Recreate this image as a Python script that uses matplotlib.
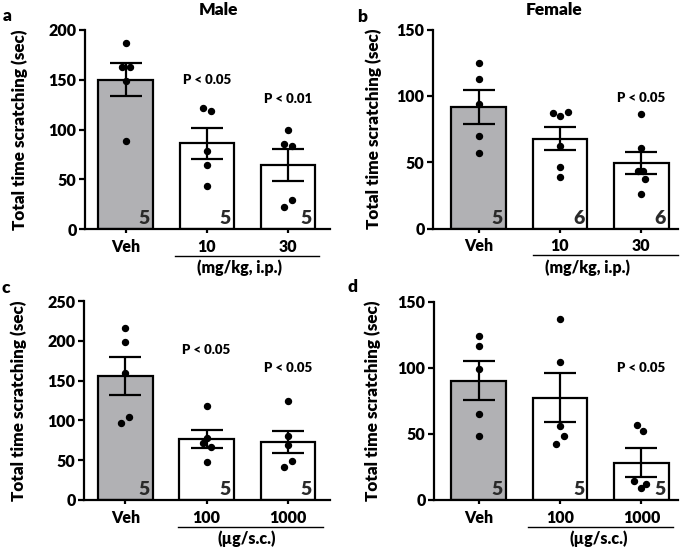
import matplotlib
matplotlib.use("Agg")
import matplotlib.pyplot as plt
import numpy as np

plt.rcParams['font.family'] = ['Lato', 'DejaVu Sans']

# ---------------- data ----------------
# panel a (Male, mg/kg i.p.)
a_labels = ["Veh", "10", "30"]
a_means = [150, 86, 64]
a_sem = [16.5, 15.8, 16.0]
a_n = [5, 5, 5]
a_pts = [[187, 163, 163, 149, 88],
         [122, 119, 78, 64, 43],
         [100, 85, 83, 29, 22]]
a_jit = [[0, -0.05, 0.05, 0, 0],
         [-0.05, 0.05, 0, 0, 0],
         [0, -0.05, 0.05, 0.05, -0.05]]
a_p = ["", "P < 0.05", "P < 0.01"]
a_py = [0, 150, 131]

# panel b (Female, mg/kg i.p.)
b_labels = ["Veh", "10", "30"]
b_means = [91.7, 67.8, 49.5]
b_sem = [12.8, 9.0, 8.5]
b_n = [5, 6, 6]
b_pts = [[125, 113, 94, 70, 57],
         [87, 85, 88, 62, 46, 39],
         [86, 61, 43, 43, 37, 26]]
b_jit = [[0, 0, 0, 0, 0],
         [-0.09, 0, 0.095, 0, 0, 0],
         [0, 0, -0.04, 0.02, 0.05, 0]]
b_p = ["", "", "P < 0.05"]
b_py = [0, 0, 98.5]

# panel c (Male, ug s.c.)
c_labels = ["Veh", "100", "1000"]
c_means = [155.6, 76.8, 73]
c_sem = [24, 11.5, 14.3]
c_n = [5, 5, 5]
c_pts = [[216, 199, 160, 104, 97],
         [118, 78, 71, 67, 48],
         [125, 80, 69, 49, 42]]
c_jit = [[0, 0, 0, 0.05, -0.05],
         [0, 0, -0.05, 0.05, 0],
         [0, 0, 0, 0.05, -0.05]]
c_p = ["", "P < 0.05", "P < 0.05"]
c_py = [0, 189, 166]

# panel d (Female, ug s.c.)
d_labels = ["Veh", "100", "1000"]
d_means = [90, 77.3, 28.3]
d_sem = [14.8, 18.5, 10.7]
d_n = [5, 5, 5]
d_pts = [[124, 116, 99, 65, 48],
         [137, 104, 56, 48, 42],
         [57, 52, 14, 9, 12]]
d_jit = [[0, 0, 0, 0, 0],
         [0, 0, 0, 0.05, -0.05],
         [-0.06, 0.02, -0.09, -0.01, 0.06]]
d_p = ["", "", "P < 0.05"]
d_py = [0, 0, 100]

GRAY = '#b1b1b4'
LW = 1.6
FW = 'heavy'

fig = plt.figure(figsize=(6.85, 5.48), dpi=100)

def px_axes(l, r, top, bot):
    W, H = 685, 548
    return fig.add_axes([l / W, 1 - bot / H, (r - l) / W, (bot - top) / H])

def panel(ax, labels, means, sem, n, pts, jit, ptxt, py, ymax, ystep, xlim,
          group, ylab_x, gline, gtx):
    x = np.arange(len(labels))
    colors = [GRAY] + ['white'] * (len(labels) - 1)
    ax.bar(x, means, width=0.67, color=colors, edgecolor='black',
           linewidth=LW, zorder=1)
    ax.errorbar(x, means, yerr=sem, fmt='none', ecolor='black',
                elinewidth=LW, capsize=11.5, capthick=LW, zorder=2)
    for i in range(len(labels)):
        xs = i + np.array(jit[i])
        ax.plot(xs, pts[i], 'o', color='black', markersize=4.3, zorder=3,
                clip_on=False)
        ax.text(i + 0.30, 0.01, str(n[i]), transform=ax.get_xaxis_transform(),
                ha='right', va='bottom', fontsize=14, fontweight=FW,
                color='#2a2a2a', zorder=4)
        if ptxt[i]:
            ax.text(i, py[i], ptxt[i], ha='center', va='center', fontsize=9.5,
                    fontweight=FW)
    ax.set_xlim(*xlim)
    ax.set_ylim(0, ymax)
    ax.set_yticks(np.arange(0, ymax + 1, ystep))
    ax.set_xticks(x)
    ax.set_xticklabels(labels)
    for s in ['top', 'right']:
        ax.spines[s].set_visible(False)
    for s in ['left', 'bottom']:
        ax.spines[s].set_linewidth(LW)
    ax.tick_params(axis='y', length=4, width=LW, labelsize=11.5, pad=2)
    ax.tick_params(axis='x', length=3, width=LW, labelsize=11.5, pad=4)
    for lab in ax.get_xticklabels() + ax.get_yticklabels():
        lab.set_fontweight(FW)
    ax.set_ylabel("Total time scratching (sec)", fontsize=12.3,
                  fontweight=FW)
    ax.yaxis.set_label_coords(ylab_x, 0.5)
    tr = ax.get_xaxis_transform()
    ax.plot(gline, [-0.135, -0.135], color='black', lw=1.0,
            transform=tr, clip_on=False)
    ax.text(gtx, -0.195, group, transform=tr, ha='center', va='center',
            fontsize=11.5, fontweight=FW)

ax_a = px_axes(85, 330, 30, 229)
panel(ax_a, a_labels, a_means, a_sem, a_n, a_pts, a_jit, a_p, a_py, 200, 50,
      (-0.5, 2.52), "(mg/kg, i.p.)", -0.233, [0.61, 2.38], 1.41)
ax_b = px_axes(433, 678, 29.5, 228.5)
panel(ax_b, b_labels, b_means, b_sem, b_n, b_pts, b_jit, b_p, b_py, 150, 50,
      (-0.56, 2.45), "(mg/kg, i.p.)", -0.208, [0.67, 2.45], 1.34)
ax_c = px_axes(84, 330, 301, 500)
panel(ax_c, c_labels, c_means, c_sem, c_n, c_pts, c_jit, c_p, c_py, 250, 50,
      (-0.51, 2.52), "(\u00b5g/s.c.)", -0.233, [0.65, 2.43], 1.5)
ax_d = px_axes(434, 678, 301.5, 500)
panel(ax_d, d_labels, d_means, d_sem, d_n, d_pts, d_jit, d_p, d_py, 150, 50,
      (-0.55, 2.45), "(\u00b5g/s.c.)", -0.218, [0.61, 2.39], 1.47)

fig.text(218 / 685, 1 - 10 / 548, "Male", ha='center', va='center',
         fontsize=12.5, fontweight=FW)
fig.text(554 / 685, 1 - 10 / 548, "Female", ha='center', va='center',
         fontsize=12.5, fontweight=FW)
for lx, ly, t in [(7, 16, 'a'), (362, 17, 'b'), (6, 288, 'c'), (352, 287, 'd')]:
    fig.text(lx / 685, 1 - ly / 548, t, ha='center', va='center',
             fontsize=12.5, fontweight=FW)

fig.savefig("out.png", dpi=100)
